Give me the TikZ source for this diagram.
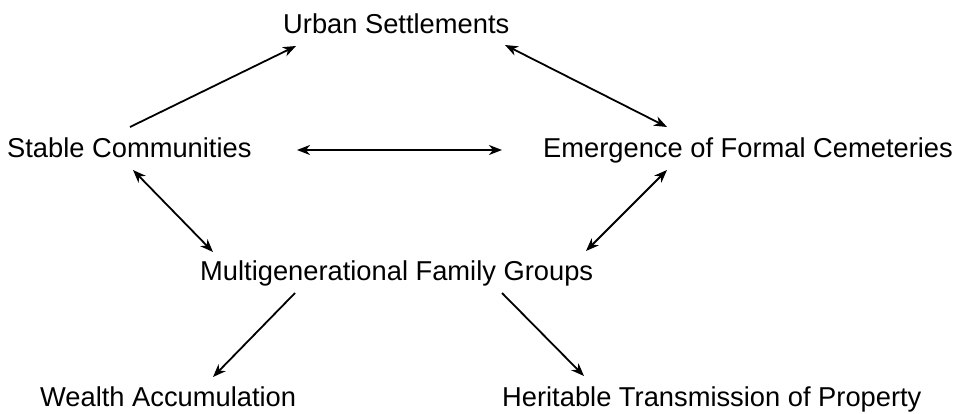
\documentclass[tikz,border=0pt]{standalone}
\usepackage{fontspec}
\setmainfont{Liberation Sans}
\usetikzlibrary{arrows.meta}
\tikzset{ahead/.tip={Stealth[length=13pt,width=10pt,inset=4pt]}}
\begin{document}
\begin{tikzpicture}[x=1pt,y=-1pt,
  lbl/.style={anchor=base west,inner sep=0pt,font=\fontsize{27.3}{32}\selectfont},
  link/.style={line width=1.8pt,black}]
\useasboundingbox (0,0) rectangle (966,414);
\node[lbl] (urban) at (283,34) {Urban Settlements};
\node[lbl] (stable) at (7,158) {Stable Communities};
\node[lbl] (emerg) at (543,158) {Emergence of Formal Cemeteries};
\node[lbl] (multi) at (200,280) {Multigenerational Family Groups};
\node[lbl] (wealth) at (40,406) {Wealth Accumulation};
\node[lbl] (herit) at (502,406) {Heritable Transmission of Property};
\draw[link,-{ahead}] ([shift={(123,-31)}]stable.base west) -- ([shift={(13,12)}]urban.base west);
\draw[link,{ahead}-{ahead}] ([shift={(222,11)}]urban.base west) -- ([shift={(124,-31)}]emerg.base west);
\draw[link,{ahead}-{ahead}] ([shift={(290,-8)}]stable.base west) -- ([shift={(-41,-8)}]emerg.base west);
\draw[link,{ahead}-{ahead}] ([shift={(126,12)}]stable.base west) -- ([shift={(13,-28)}]multi.base west);
\draw[link,{ahead}-{ahead}] ([shift={(124,12)}]emerg.base west) -- ([shift={(386,-29)}]multi.base west);
\draw[link,-{ahead}] ([shift={(95,13)}]multi.base west) -- ([shift={(173,-29)}]wealth.base west);
\draw[link,-{ahead}] ([shift={(302,13)}]multi.base west) -- ([shift={(82,-30)}]herit.base west);
\end{tikzpicture}
\end{document}
